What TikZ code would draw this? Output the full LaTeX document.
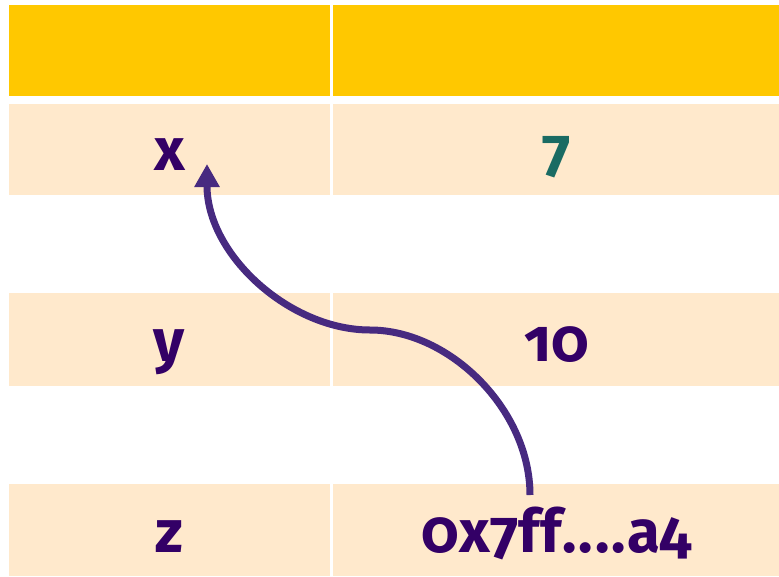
\documentclass[tikz,border=0pt]{standalone}
\usepackage{fontspec}
\setmainfont[Numbers=OldStyle]{Fira Sans}
\usetikzlibrary{arrows.meta}
\definecolor{hdr}{HTML}{FFC800}
\definecolor{cellc}{HTML}{FFE9CC}
\definecolor{ink}{HTML}{330066}
\definecolor{numc}{HTML}{1A6B63}
\definecolor{arrc}{HTML}{472A80}
\begin{document}
\begin{tikzpicture}[x=1pt,y=-1pt,
  hcell/.style={fill=hdr, draw=none, inner sep=0pt, anchor=north west, minimum height=91pt},
  cell/.style={fill=cellc, draw=none, inner sep=0pt, anchor=north west, minimum height=91pt},
  lcol/.style={minimum width=321pt},
  rcol/.style={minimum width=446pt},
  lbl/.style={anchor=base, inner sep=0pt, text=ink, font=\fontsize{60}{62}\selectfont\bfseries},
  ptr/.style={draw=arrc, line width=7pt, -{Triangle[length=23pt,width=24pt]}}]
\useasboundingbox (0,0) rectangle (779,576);
\fill[white] (0,0) rectangle (779,576);
% header
\node[hcell,lcol] (h1) at (9,5) {};
\node[hcell,rcol] (h2) at (333,5) {};
% rows
\node[cell,lcol] (xa) at (9,104) {};
\node[cell,rcol] (xb) at (333,104) {};
\node[cell,lcol,minimum height=93pt] (ya) at (9,293) {};
\node[cell,rcol,minimum height=93pt] (yb) at (333,293) {};
\node[cell,lcol,minimum height=92pt] (za) at (9,484) {};
\node[cell,rcol,minimum height=92pt] (zb) at (333,484) {};
% labels
\node[lbl] (tx) at (169.5,170) {x};
\node[lbl,text=numc] (t7) at (557,170) {7};
\node[lbl] (ty) at (169.5,361) {y};
\node[lbl] (t10) at (557,361) {10};
\node[lbl] (tz) at (169.5,552) {z};
\node[lbl] (tp) at (557,552) {0x7ff\kern1pt.\kern2pt.\kern2pt.\kern2pt.\kern1pt a4};
% pointer
\coordinate (src) at (530,495);
\coordinate (mid) at (370,330);
\coordinate (dst) at (207,164);
\draw[ptr] (src) .. controls (530,410) and (450,330) .. (mid)
  .. controls (290,330) and (207,255) .. (dst);
\end{tikzpicture}
\end{document}
